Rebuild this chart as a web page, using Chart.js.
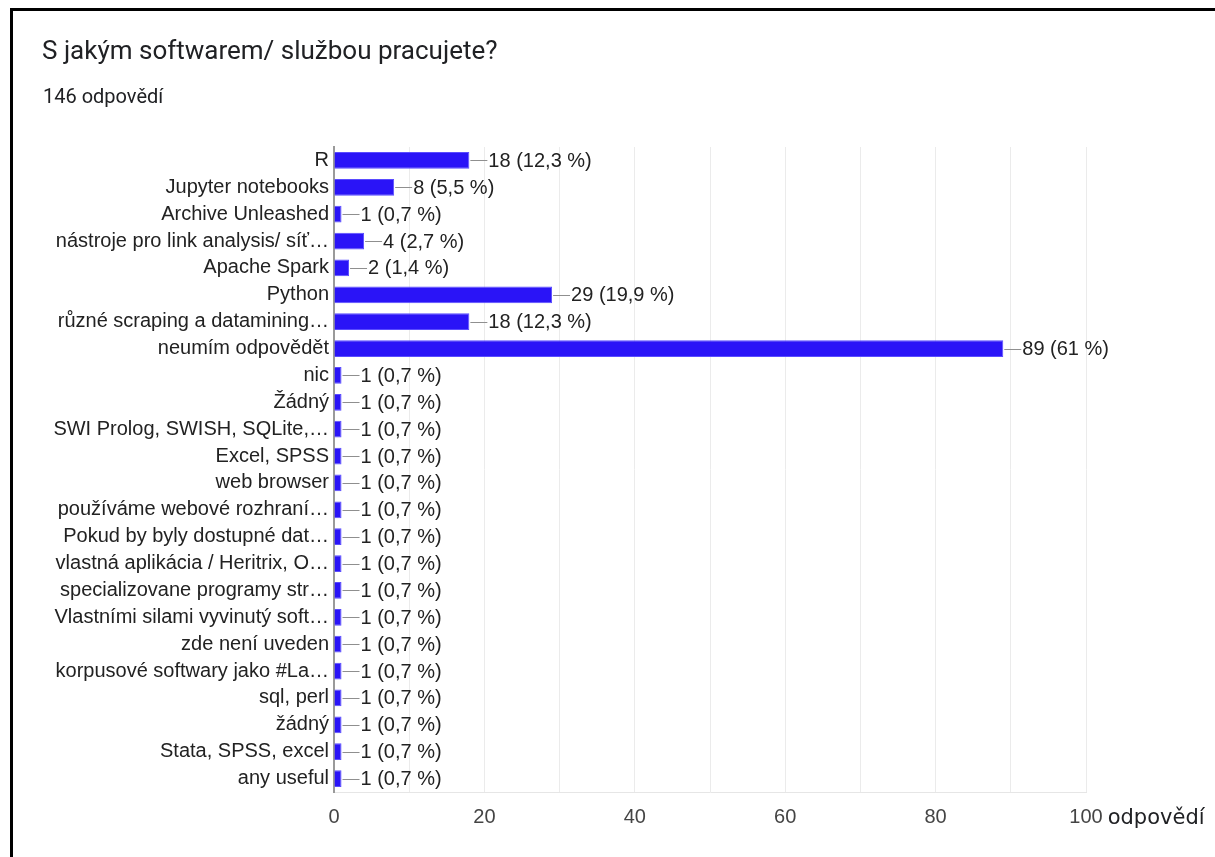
<!DOCTYPE html>
<html>
<head>
<meta charset="utf-8">
<script src="https://cdn.jsdelivr.net/npm/chart.js@4.4.1/dist/chart.umd.min.js"></script>
<style>
  html, body { margin: 0; padding: 0; background: #fff; width: 1215px; height: 857px; overflow: hidden; }
  #frame { position: absolute; left: 10px; top: 8px; width: 1220px; height: 900px; border-top: 3px solid #000; border-left: 3px solid #000; box-sizing: border-box; }
  #title { position: absolute; left: 42px; top: 35px; font-family: Roboto, 'Noto Sans', sans-serif; font-size: 26px; line-height: 30px; color: #202124; white-space: nowrap; }
  #subtitle { position: absolute; left: 43px; top: 85px; font-family: Roboto, 'Noto Sans', sans-serif; font-size: 20px; line-height: 22px; color: #202124; white-space: nowrap; }
  #wrap { position: absolute; left: 0; top: 0; width: 1215px; height: 857px; }
</style>
</head>
<body>
<div id="wrap"><canvas id="c" width="1215" height="857"></canvas></div>
<div id="frame"></div>
<div id="title">S jakým softwarem/ službou pracujete?</div>
<div id="subtitle">146 odpovědí</div>
<script>
const categories = [
  "R",
  "Jupyter notebooks",
  "Archive Unleashed",
  "nástroje pro link analysis/ síť…",
  "Apache Spark",
  "Python",
  "různé scraping a datamining…",
  "neumím odpovědět",
  "nic",
  "Žádný",
  "SWI Prolog, SWISH, SQLite,…",
  "Excel, SPSS",
  "web browser",
  "používáme webové rozhraní…",
  "Pokud by byly dostupné dat…",
  "vlastná aplikácia / Heritrix, O…",
  "specializovane programy str…",
  "Vlastními silami vyvinutý soft…",
  "zde není uveden",
  "korpusové softwary jako #La…",
  "sql, perl",
  "žádný",
  "Stata, SPSS, excel",
  "any useful"
];
const counts = [18, 8, 1, 4, 2, 29, 18, 89, 1, 1, 1, 1, 1, 1, 1, 1, 1, 1, 1, 1, 1, 1, 1, 1];
const percents = [12.3, 5.5, 0.7, 2.7, 1.4, 19.9, 12.3, 61, 0.7, 0.7, 0.7, 0.7, 0.7, 0.7, 0.7, 0.7, 0.7, 0.7, 0.7, 0.7, 0.7, 0.7, 0.7, 0.7];
const xTickValues = [0, 20, 40, 60, 80, 100];
const axisUnit = "odpovědí";

const LABEL_FONT = "20px 'Liberation Sans', Arial, sans-serif";

const valueLabels = {
  id: 'valueLabels',
  afterDatasetsDraw(chart) {
    const ctx = chart.ctx;
    const meta = chart.getDatasetMeta(0);
    ctx.save();
    ctx.font = LABEL_FONT;
    ctx.textBaseline = 'middle';
    ctx.textAlign = 'left';
    meta.data.forEach((bar, i) => {
      const x = bar.x, y = Math.round(bar.y) + 0.5;
      ctx.strokeStyle = '#8f8f8f';
      ctx.lineWidth = 1;
      ctx.beginPath();
      ctx.moveTo(x + 1, y);
      ctx.lineTo(x + 18, y);
      ctx.stroke();
      ctx.fillStyle = '#222222';
      const p = String(percents[i]).replace('.', ',');
      ctx.fillText(counts[i] + ' (' + p + ' %)', x + 19, bar.y + 1);
    });
    ctx.restore();
  },
  afterDraw(chart) {
    const ctx = chart.ctx;
    const xs = chart.scales.x;
    const last = xTickValues[xTickValues.length - 1];
    ctx.save();
    ctx.font = LABEL_FONT;
    const w = ctx.measureText(String(last)).width;
    const px = xs.getPixelForValue(last) + w / 2 + 5;
    ctx.font = "21px 'DejaVu Sans', sans-serif";
    ctx.fillStyle = '#202124';
    ctx.textBaseline = 'middle';
    ctx.textAlign = 'left';
    ctx.fillText(axisUnit, px, xs.bottom - 65 + 27);
    ctx.restore();
  }
};

new Chart(document.getElementById('c'), {
  type: 'bar',
  data: {
    labels: categories,
    datasets: [{
      data: counts,
      backgroundColor: '#2a14f7',
      borderColor: '#5a4cff',
      borderWidth: 1,
      categoryPercentage: 1,
      barPercentage: 0.62
    }]
  },
  options: {
    indexAxis: 'y',
    responsive: false,
    animation: false,
    events: [],
    layout: { padding: { top: 147, right: 129, bottom: 0, left: 0 } },
    plugins: { legend: { display: false }, tooltip: { enabled: false }, title: { display: false } },
    scales: {
      x: {
        min: 0,
        max: 100,
        afterFit(scale) { scale.height = 65; },
        afterBuildTicks(scale) {
          const t = [];
          for (let v = 0; v <= 100; v += 10) t.push({ value: v });
          scale.ticks = t;
        },
        ticks: {
          padding: 13,
          color: '#444444',
          font: { family: "'Liberation Sans', Arial, sans-serif", size: 20 },
          maxRotation: 0,
          autoSkip: false,
          callback: (v) => xTickValues.includes(v) ? String(v) : ''
        },
        grid: { color: '#ebebeb', lineWidth: 1, drawTicks: false },
        border: { color: '#e6e6e6', width: 1 }
      },
      y: {
        afterFit(scale) { scale.width = 334; },
        ticks: {
          padding: 5,
          color: '#222222',
          font: { family: "'Liberation Sans', Arial, sans-serif", size: 20 },
          autoSkip: false
        },
        grid: { display: false, drawTicks: false },
        border: { color: '#9a9a9a', width: 2 }
      }
    }
  },
  plugins: [valueLabels]
});
</script>
</body>
</html>
